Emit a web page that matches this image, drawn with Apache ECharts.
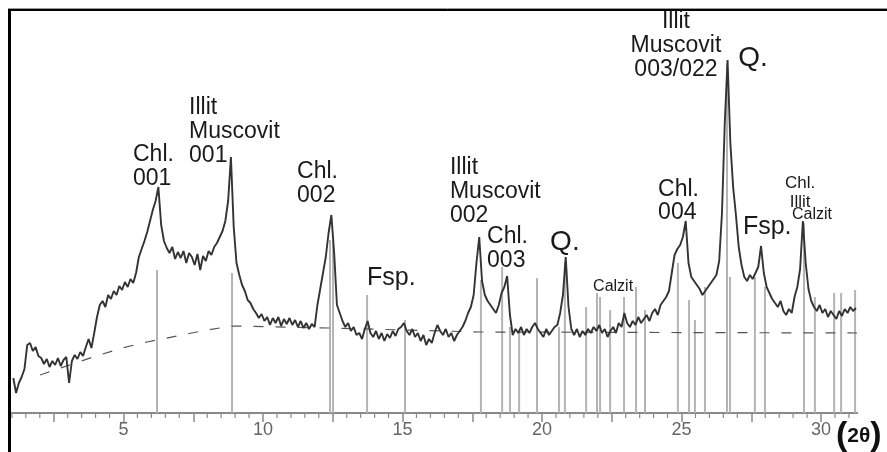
<!DOCTYPE html>
<html>
<head>
<meta charset="utf-8">
<script src="https://cdn.jsdelivr.net/npm/echarts@6/dist/echarts.min.js"></script>
<style>
  html, body { margin: 0; padding: 0; background: #fff; }
  #chart { width: 887px; height: 452px; }
</style>
</head>
<body>
<div id="chart"></div>
<script>
// diffractogram: intensity every 0.1 deg 2theta starting at 1.05
const twoThetaStart = 1.05;
const twoThetaStep = 0.1;
const intensity = [
  35, 20, 30, 36, 44, 68, 70, 62, 66, 57,
  55, 49, 54, 46, 52, 48, 55, 47, 53, 56,
  30, 52, 58, 54, 61, 57, 66, 74, 65, 80,
  96, 108, 112, 106, 118, 114, 122, 118, 127, 123,
  131, 126, 134, 130, 140, 156, 164, 172, 181, 192,
  203, 212, 226, 188, 172, 165, 160, 166, 154, 161,
  155, 162, 150, 160, 156, 148, 159, 143, 157, 152,
  162, 158, 166, 170, 176, 182, 192, 212, 256, 186,
  150, 138, 128, 122, 113, 110, 104, 100, 95, 99,
  92, 96, 88, 95, 90, 96, 87, 94, 89, 95,
  88, 93, 86, 92, 85, 90, 84, 89, 86, 108,
  124, 140, 156, 180, 198, 160, 108, 100, 92, 86,
  90, 82, 86, 78, 80, 74, 84, 92, 80, 76,
  82, 74, 80, 72, 79, 75, 82, 77, 84, 86,
  90, 82, 78, 84, 76, 80, 72, 78, 68, 74,
  70, 80, 88, 82, 78, 84, 76, 80, 72, 78,
  82, 86, 92, 100, 106, 118, 150, 176, 132, 118,
  112, 108, 104, 100, 108, 120, 126, 137, 98, 78,
  84, 80, 86, 78, 84, 80, 86, 90, 84, 80,
  76, 84, 78, 82, 86, 88, 100, 118, 156, 106,
  84, 78, 84, 76, 82, 78, 84, 80, 86, 82,
  88, 80, 84, 76, 82, 86, 80, 90, 86, 100,
  90, 86, 92, 88, 96, 90, 94, 98, 92, 100,
  104, 98, 108, 112, 116, 122, 140, 158, 164, 168,
  176, 192, 150, 136, 132, 128, 124, 118, 122, 126,
  130, 134, 138, 152, 200, 290, 353, 270, 226, 198,
  166, 148, 136, 132, 138, 134, 140, 146, 167, 140,
  126, 120, 114, 110, 106, 112, 102, 98, 104, 100,
  116, 126, 144, 192, 150, 124, 112, 106, 102, 108,
  100, 104, 96, 102, 98, 94, 102, 97, 104, 100,
  106, 102, 105
];

// background (dashed)
const baselineX = [2.01, 3.91, 4.95, 5.84, 7.99, 8.89, 12.40, 17.78, 31.29];
const baselineY = [38, 56, 65, 71, 83, 87, 85, 81, 80];

// reference sticks: position and height
const stickPos = [6.20, 8.89, 12.40, 12.51, 13.73, 15.09, 17.81, 18.57, 18.85, 19.18,
  19.82, 20.61, 20.82, 21.58, 21.97, 22.08, 22.44, 22.94, 23.37, 23.69,
  24.87, 25.27, 25.48, 25.84, 26.63, 26.74, 27.63, 27.99, 29.39, 29.78,
  30.47, 30.72, 31.22];
const stickTop = [143, 140, 173, 173, 118, 93, 133, 146, 86, 83,
  135, 86, 151, 106, 120, 116, 103, 116, 126, 103,
  150, 113, 93, 126, 348, 136, 136, 126, 190, 116,
  120, 120, 123];

// peak labels
const labelTexts = ['Chl.\n001', 'Illit\nMuscovit\n001', 'Chl.\n002', 'Fsp.',
  'Illit\nMuscovit\n002', 'Chl.\n003', 'Q.', 'Calzit', 'Chl.\n004',
  'Illit\nMuscovit\n003/022', 'Q.', 'Fsp.', 'Chl.\nIllit', 'Calzit'];
const labelX = [5.34, 7.35, 11.22, 13.73, 16.70, 18.03, 20.29, 21.83, 24.16, 24.80, 27.03, 27.20, 29.25, 28.96];
const labelY = [270, 317, 253, 147.5, 257, 188, 185, 134, 234.5, 403, 369, 198.5, 239.5, 206];

// axis
const tickLabels = [5, 10, 15, 20, 25, 30];
const majorTicks = [2.5, 5, 7.5, 10, 12.5, 15, 17.5, 20, 22.5, 25, 27.5, 30];
const minorTicks = [];
for (let t = 1; t <= 31; t += 0.5) {
  if (t % 2.5 !== 0) minorTicks.push(t);
}

const FONT = '"Liberation Sans", Arial, sans-serif';

function labelStyle(i) {
  const t = labelTexts[i];
  if (t === 'Q.') return { size: 28, lh: 28, align: 'left' };
  if (t === 'Fsp.') return { size: 25, lh: 25, align: 'left' };
  if (t === 'Calzit') return { size: 16, lh: 16, align: 'left' };
  if (t === 'Chl.\nIllit') return { size: 17, lh: 19, align: 'center' };
  if (t === 'Illit\nMuscovit\n003/022') return { size: 23, lh: 24, align: 'center' };
  if (t === 'Chl.\n004') return { size: 23, lh: 23, align: 'left' };
  return { size: 23, lh: 24, align: 'left' };
}

const chart = echarts.init(document.getElementById('chart'));

const option = {
  animation: false,
  grid: { left: 11.9, right: 29.7, top: 8, bottom: 39, containLabel: false, outerBoundsMode: 'none' },
  xAxis: {
    type: 'value', min: 1.0, max: 31.3,
    axisLine: { show: true, lineStyle: { color: '#8a8a8a', width: 2 } },
    axisTick: { show: true, customValues: majorTicks, length: 9, lineStyle: { color: '#8a8a8a', width: 1.5 } },
    axisLabel: { customValues: tickLabels, margin: 8, color: '#666', fontFamily: FONT, fontSize: 18 },
    splitLine: { show: false }
  },
  yAxis: { type: 'value', min: 0, max: 405, show: false },
  graphic: [
    { type: 'line', shape: { x1: 9.5, y1: 9, x2: 9.5, y2: 452 }, style: { stroke: '#000', lineWidth: 3 } },
    { type: 'line', shape: { x1: 8, y1: 10, x2: 887, y2: 10 }, style: { stroke: '#000', lineWidth: 2 } },
    { type: 'line', shape: { x1: 8, y1: 8.5, x2: 887, y2: 8.5 }, style: { stroke: '#9a9a9a', lineWidth: 1 } },
    {
      type: 'text', x: 836, y: 436,
      style: {
        text: '{p|(}{t|2θ}{p|)}', verticalAlign: 'middle', fill: '#111',
        rich: {
          p: { font: 'bold 34px ' + FONT, fill: '#111' },
          t: { font: 'bold 21px ' + FONT, fill: '#111' }
        }
      }
    }
  ],
  series: [
    {
      type: 'custom', name: 'minor ticks', silent: true, z: 1,
      data: minorTicks.map((t) => [t, 0]),
      renderItem: (params, api) => {
        const a = api.coord([api.value(0), 0]);
        return {
          type: 'line',
          shape: { x1: a[0], y1: a[1], x2: a[0], y2: a[1] + 5 },
          style: { stroke: '#8a8a8a', lineWidth: 1.2 }
        };
      }
    },
    {
      type: 'custom', name: 'sticks', silent: true, z: 1,
      data: stickPos.map((p, i) => [p, stickTop[i]]),
      renderItem: (params, api) => {
        const a = api.coord([api.value(0), 0]);
        const b = api.coord([api.value(0), api.value(1)]);
        return {
          type: 'line',
          shape: { x1: a[0], y1: a[1], x2: b[0], y2: b[1] },
          style: { stroke: '#b4b4b4', lineWidth: 2 }
        };
      }
    },
    {
      type: 'line', name: 'background', silent: true, z: 2,
      data: baselineX.map((x, i) => [x, baselineY[i]]),
      showSymbol: false,
      lineStyle: { color: '#555', width: 1.2, type: [10, 12] }
    },
    {
      type: 'line', name: 'scan', silent: true, z: 3,
      data: intensity.map((v, i) => [+(twoThetaStart + i * twoThetaStep).toFixed(2), v]),
      showSymbol: false,
      lineStyle: { color: '#333', width: 1.9 }
    },
    {
      type: 'custom', name: 'labels', silent: true, z: 4,
      data: labelX.map((x, i) => [x, labelY[i]]),
      renderItem: (params, api) => {
        const i = params.dataIndex;
        const s = labelStyle(i);
        const p = api.coord([api.value(0), api.value(1)]);
        return {
          type: 'text', x: p[0], y: p[1],
          style: {
            text: labelTexts[i],
            font: s.size + 'px ' + FONT,
            fill: '#1a1a1a',
            align: s.align,
            verticalAlign: 'top',
            lineHeight: s.lh
          }
        };
      }
    }
  ]
};

chart.setOption(option);
</script>
</body>
</html>
